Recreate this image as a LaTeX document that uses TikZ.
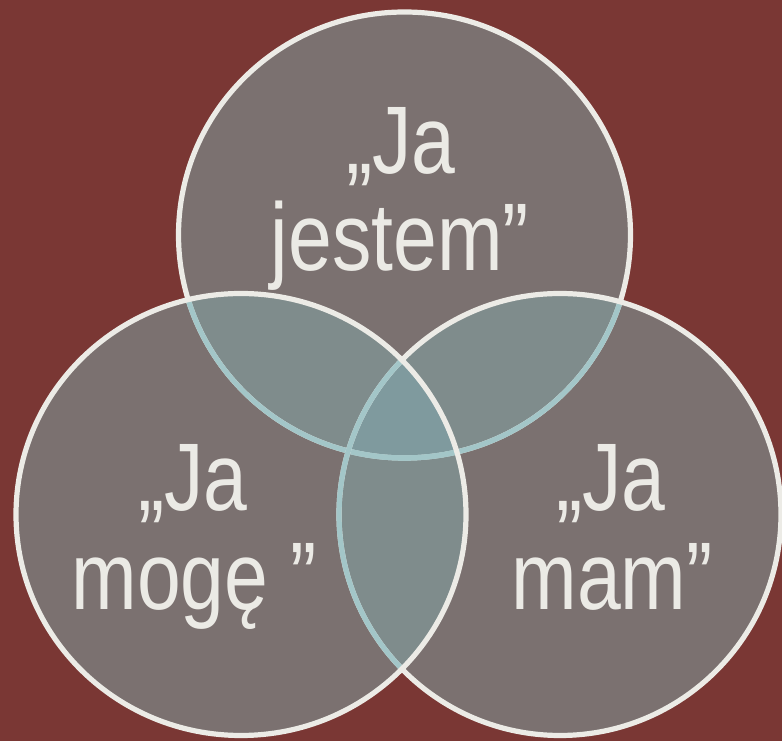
\documentclass[tikz,border=0pt]{standalone}
\usepackage{fontspec}
\setmainfont{Liberation Sans}[FakeStretch=0.82]
\definecolor{bgred}{HTML}{7A3734}
\definecolor{onefill}{HTML}{7B7170}
\definecolor{twofill}{HTML}{7F8C8C}
\definecolor{threefill}{HTML}{7F9A9E}
\definecolor{rimwhite}{HTML}{ECEBE6}
\definecolor{rimblue}{HTML}{A3C6C8}
\definecolor{txt}{HTML}{EBEAE5}
\tikzset{
  rim/.style={draw=rimwhite,line width=5.2pt},
  rimcov/.style={draw=rimblue,line width=5.2pt},
  lbl/.style={anchor=base,text=txt,inner sep=0pt,font=\fontsize{96}{98}\selectfont}
}
\begin{document}
\begin{tikzpicture}[x=1pt,y=1pt]
\useasboundingbox (0,0) rectangle (782,741);
\fill[bgred] (0,0) rectangle (782,741);
\coordinate (ct) at (404.5,506);
\coordinate (cl) at (241,226.5);
\coordinate (cr) at (560,226.5);
% single fills
\fill[onefill] (ct) ellipse [x radius=226,y radius=223];
\fill[onefill] (cl) ellipse [x radius=225,y radius=221];
\fill[onefill] (cr) ellipse [x radius=221,y radius=221];
% double overlaps
\begin{scope}
  \clip (ct) ellipse [x radius=226,y radius=223];
  \fill[twofill] (cl) ellipse [x radius=225,y radius=221];
  \fill[twofill] (cr) ellipse [x radius=221,y radius=221];
\end{scope}
\begin{scope}
  \clip (cl) ellipse [x radius=225,y radius=221];
  \fill[twofill] (cr) ellipse [x radius=221,y radius=221];
\end{scope}
% triple overlap
\begin{scope}
  \clip (ct) ellipse [x radius=226,y radius=223];
  \clip (cl) ellipse [x radius=225,y radius=221];
  \fill[threefill] (cr) ellipse [x radius=221,y radius=221];
\end{scope}
% outlines: top, then right, then left
\draw[rim] (ct) ellipse [x radius=226,y radius=223];
\begin{scope}
  \clip (cl) ellipse [x radius=225,y radius=221];
  \draw[rimcov] (ct) ellipse [x radius=226,y radius=223];
\end{scope}
\begin{scope}
  \clip (cr) ellipse [x radius=221,y radius=221];
  \draw[rimcov] (ct) ellipse [x radius=226,y radius=223];
\end{scope}
\draw[rim] (cr) ellipse [x radius=221,y radius=221];
\begin{scope}
  \clip (cl) ellipse [x radius=225,y radius=221];
  \draw[rimcov] (cr) ellipse [x radius=221,y radius=221];
\end{scope}
\draw[rim] (cl) ellipse [x radius=225,y radius=221];
% labels
\node[lbl] (t1) at (401,567) {„Ja};
\node[lbl] (t2) at (400,470) {jestem”};
\node[lbl] (l1) at (193,230) {„Ja};
\node[lbl] (l2) at (194,131) {mogę ”};
\node[lbl] (r1) at (611,230) {„Ja};
\node[lbl] (r2) at (612,131) {mam”};
\end{tikzpicture}
\end{document}
